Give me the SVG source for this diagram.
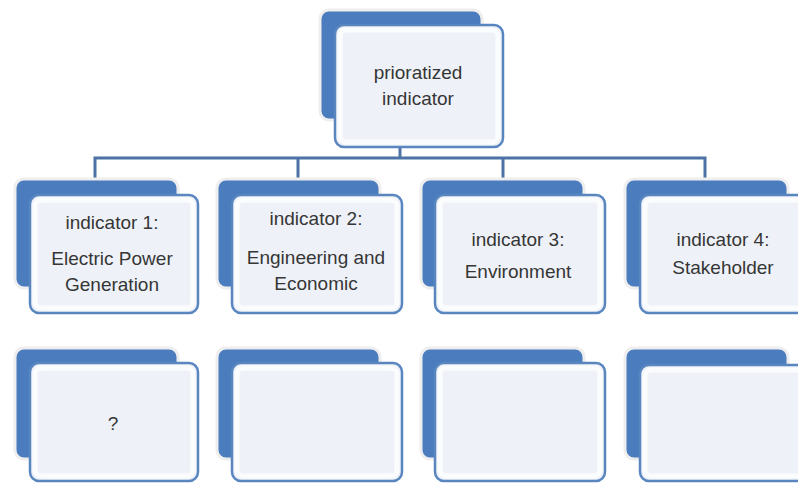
<svg xmlns="http://www.w3.org/2000/svg" width="798" height="483" viewBox="0 0 798 483">
  <defs>
    <style>
      .back { fill: #4a7cbe; stroke: #eeeeee; stroke-width: 3; }
      .front { fill: #eef2f8; stroke: #5a86c0; stroke-width: 2.5; }
      .inner { fill: none; stroke: #fbfcfe; stroke-width: 5; }
      .link { fill: none; stroke: #4d73a6; stroke-width: 3; }
      .lbl { font-family: "Liberation Sans", Arial, sans-serif; font-size: 19px; fill: #363636; text-anchor: middle; }
    </style>
  </defs>
  <rect width="798" height="483" fill="#ffffff"/>

  <!-- tree connectors -->
  <g id="connectors">
    <path class="link" d="M400 147 V158"/>
    <path class="link" d="M95 178 V158 H705 V178"/>
    <path class="link" d="M298 158 V178"/>
    <path class="link" d="M503 158 V178"/>
  </g>

  <!-- root -->
  <g id="root">
    <rect class="back" x="320" y="10" width="162" height="110" rx="9"/>
    <rect class="front" x="335" y="25" width="168" height="122" rx="9"/>
    <rect class="inner" x="340" y="30" width="158" height="112" rx="6"/>
    <text class="lbl" x="418" y="79">prioratized</text>
    <text class="lbl" x="418" y="105">indicator</text>
  </g>

  <!-- first level -->
  <g id="ind1">
    <rect class="back" x="15" y="179" width="163" height="109" rx="9"/>
    <rect class="front" x="30" y="195" width="168" height="118" rx="9"/>
    <rect class="inner" x="35" y="200" width="158" height="108" rx="6"/>
    <text class="lbl" x="112" y="229">indicator 1:</text>
    <text class="lbl" x="112" y="265">Electric Power</text>
    <text class="lbl" x="112" y="291">Generation</text>
  </g>
  <g id="ind2">
    <rect class="back" x="217" y="179" width="163" height="109" rx="9"/>
    <rect class="front" x="232" y="195" width="170" height="118" rx="9"/>
    <rect class="inner" x="237" y="200" width="160" height="108" rx="6"/>
    <text class="lbl" x="316" y="225">indicator 2:</text>
    <text class="lbl" x="316" y="264">Engineering and</text>
    <text class="lbl" x="316" y="290">Economic</text>
  </g>
  <g id="ind3">
    <rect class="back" x="421" y="179" width="163" height="109" rx="9"/>
    <rect class="front" x="435" y="195" width="170" height="118" rx="9"/>
    <rect class="inner" x="440" y="200" width="160" height="108" rx="6"/>
    <text class="lbl" x="518" y="246">indicator 3:</text>
    <text class="lbl" x="518" y="278">Environment</text>
  </g>
  <g id="ind4">
    <rect class="back" x="625" y="179" width="163" height="109" rx="9"/>
    <rect class="front" x="640" y="195" width="170" height="118" rx="9"/>
    <rect class="inner" x="645" y="200" width="160" height="108" rx="6"/>
    <text class="lbl" x="723" y="246">indicator 4:</text>
    <text class="lbl" x="723" y="274">Stakeholder</text>
  </g>

  <!-- second level -->
  <g id="sub1">
    <rect class="back" x="15" y="348" width="163" height="111" rx="9"/>
    <rect class="front" x="30" y="363" width="168" height="118" rx="9"/>
    <rect class="inner" x="35" y="368" width="158" height="108" rx="6"/>
    <text class="lbl" x="113" y="430">?</text>
  </g>
  <g id="sub2">
    <rect class="back" x="217" y="348" width="163" height="111" rx="9"/>
    <rect class="front" x="232" y="363" width="170" height="118" rx="9"/>
    <rect class="inner" x="237" y="368" width="160" height="108" rx="6"/>
  </g>
  <g id="sub3">
    <rect class="back" x="421" y="348" width="163" height="111" rx="9"/>
    <rect class="front" x="435" y="363" width="170" height="118" rx="9"/>
    <rect class="inner" x="440" y="368" width="160" height="108" rx="6"/>
  </g>
  <g id="sub4">
    <rect class="back" x="625" y="348" width="163" height="111" rx="9"/>
    <rect class="front" x="640" y="365" width="170" height="116" rx="9"/>
    <rect class="inner" x="645" y="370" width="160" height="106" rx="6"/>
  </g>
</svg>
